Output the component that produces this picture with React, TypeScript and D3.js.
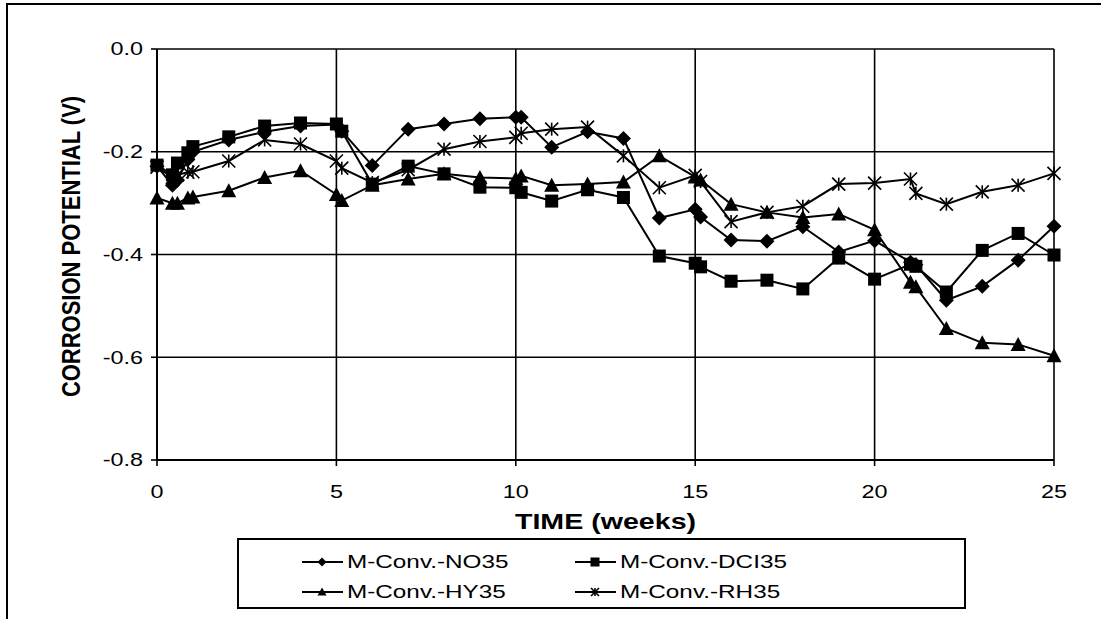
import React, { useEffect, useRef } from "react";
import * as d3 from "d3";

const weeks = [0, 0.43, 0.57, 0.86, 1, 2, 3, 4, 5, 5.15, 6, 7, 8, 9, 10, 10.15, 11, 12, 13, 14, 15, 15.15, 16, 17, 18, 19, 20, 21, 21.15, 22, 23, 24, 25];
const no35 = [-0.228, -0.265, -0.255, -0.215, -0.2, -0.177, -0.161, -0.15, -0.147, -0.16, -0.227, -0.156, -0.146, -0.136, -0.133, -0.133, -0.191, -0.161, -0.174, -0.329, -0.312, -0.327, -0.372, -0.374, -0.346, -0.395, -0.373, -0.415, -0.42, -0.489, -0.462, -0.411, -0.345];
const dci35 = [-0.226, -0.245, -0.222, -0.202, -0.19, -0.171, -0.15, -0.144, -0.146, -0.16, -0.263, -0.228, -0.243, -0.269, -0.27, -0.279, -0.296, -0.274, -0.289, -0.403, -0.417, -0.424, -0.452, -0.45, -0.467, -0.407, -0.448, -0.419, -0.423, -0.473, -0.392, -0.359, -0.401];
const hy35 = [-0.29, -0.3, -0.3, -0.29, -0.288, -0.276, -0.25, -0.237, -0.283, -0.295, -0.265, -0.253, -0.243, -0.25, -0.252, -0.247, -0.265, -0.263, -0.259, -0.208, -0.249, -0.255, -0.302, -0.318, -0.328, -0.321, -0.352, -0.454, -0.463, -0.544, -0.572, -0.575, -0.597];
const rh35 = [-0.23, -0.25, -0.245, -0.24, -0.239, -0.218, -0.177, -0.185, -0.218, -0.232, -0.26, -0.235, -0.195, -0.18, -0.172, -0.164, -0.156, -0.152, -0.208, -0.27, -0.246, -0.258, -0.336, -0.318, -0.306, -0.263, -0.261, -0.253, -0.281, -0.302, -0.278, -0.265, -0.242];

const seriesNames = ["M-Conv.-NO35", "M-Conv.-DCI35", "M-Conv.-HY35", "M-Conv.-RH35"];
const markerKinds = ["diamond", "square", "triangle", "star"];
const xTicks = [0, 5, 10, 15, 20, 25];
const yTicks = [0, -0.2, -0.4, -0.6, -0.8];
const yTickLabels = ["0.0", "-0.2", "-0.4", "-0.6", "-0.8"];

const FONT = "'Liberation Sans', Arial, sans-serif";
const SX = 1.3;

export default function App() {
  const ref = useRef<SVGSVGElement>(null);
  useEffect(() => {
    const svg = d3.select(ref.current);
    svg.selectAll("*").remove();
    const W = 1101, H = 619;
    const left = 157, right = 1054, top = 49, bottom = 460;
    const x = d3.scaleLinear().domain([0, 25]).range([left, right]);
    const y = d3.scaleLinear().domain([-0.8, 0]).range([bottom, top]);

    svg.append("rect").attr("x", 0).attr("y", 0).attr("width", W).attr("height", H).attr("fill", "#fff");
    // outer frame
    svg.append("rect").attr("x", 7).attr("y", 4).attr("width", W + 10).attr("height", H + 10)
      .attr("fill", "none").attr("stroke", "#000").attr("stroke-width", 2);

    // gridlines
    const g = svg.append("g");
    yTicks.filter(v => v !== -0.8).forEach(v => {
      g.append("line").attr("x1", left).attr("x2", right).attr("y1", y(v)).attr("y2", y(v))
        .attr("stroke", "#000").attr("stroke-width", 1.6);
    });
    xTicks.filter(v => v !== 0).forEach(v => {
      g.append("line").attr("x1", x(v)).attr("x2", x(v)).attr("y1", top).attr("y2", bottom)
        .attr("stroke", "#000").attr("stroke-width", 1.6);
    });
    // axes
    g.append("line").attr("x1", left).attr("x2", left).attr("y1", top).attr("y2", bottom).attr("stroke", "#000").attr("stroke-width", 2);
    g.append("line").attr("x1", left).attr("x2", right).attr("y1", bottom).attr("y2", bottom).attr("stroke", "#000").attr("stroke-width", 2);
    yTicks.forEach((v, i) => {
      g.append("line").attr("x1", left - 6).attr("x2", left).attr("y1", y(v)).attr("y2", y(v)).attr("stroke", "#000").attr("stroke-width", 1.6);
      g.append("text").attr("transform", `translate(${left - 14},${y(v)}) scale(${SX},1)`)
        .attr("text-anchor", "end").attr("dominant-baseline", "central")
        .attr("font-family", FONT).attr("font-size", 18).text(yTickLabels[i]);
    });
    xTicks.forEach(v => {
      g.append("line").attr("x1", x(v)).attr("x2", x(v)).attr("y1", bottom).attr("y2", bottom + 6).attr("stroke", "#000").attr("stroke-width", 1.6);
      g.append("text").attr("transform", `translate(${x(v)},${bottom + 32}) scale(${SX},1)`)
        .attr("text-anchor", "middle").attr("dominant-baseline", "central")
        .attr("font-family", FONT).attr("font-size", 18).text(String(v));
    });

    // titles
    svg.append("text").attr("transform", `translate(${(left + right) / 2},${521}) scale(${SX},1)`)
      .attr("text-anchor", "middle").attr("dominant-baseline", "central")
      .attr("font-family", FONT).attr("font-weight", "bold").attr("font-size", 22).text("TIME (weeks)");
    svg.append("text").attr("transform", `translate(${71},${(top + bottom) / 2 - 8}) rotate(-90) scale(1,1.15)`)
      .attr("text-anchor", "middle").attr("dominant-baseline", "central")
      .attr("font-family", FONT).attr("font-weight", "bold").attr("font-size", 22).text("CORROSION POTENTIAL (V)");

    const drawMarker = (sel: any, kind: string, cx: number, cy: number, s: number) => {
      if (kind === "diamond") {
        sel.append("path").attr("d", `M${cx},${cy - s / 2}L${cx + s / 2},${cy}L${cx},${cy + s / 2}L${cx - s / 2},${cy}Z`).attr("fill", "#000");
      } else if (kind === "square") {
        sel.append("rect").attr("x", cx - s / 2).attr("y", cy - s / 2).attr("width", s).attr("height", s).attr("fill", "#000");
      } else if (kind === "triangle") {
        sel.append("path").attr("d", `M${cx},${cy - s / 2}L${cx + s / 2},${cy + s / 2 - 1}L${cx - s / 2},${cy + s / 2 - 1}Z`).attr("fill", "#000");
      } else {
        const r = s / 2;
        const gg = sel.append("g").attr("stroke", "#000").attr("stroke-width", 1.6);
        gg.append("line").attr("x1", cx - r).attr("x2", cx + r).attr("y1", cy - r).attr("y2", cy + r);
        gg.append("line").attr("x1", cx - r).attr("x2", cx + r).attr("y1", cy + r).attr("y2", cy - r);
        gg.append("line").attr("x1", cx).attr("x2", cx).attr("y1", cy - r).attr("y2", cy + r);
      }
    };
    const sizes: Record<string, number> = { diamond: 15, square: 13, triangle: 15, star: 13 };

    const allSeries = [no35, dci35, hy35, rh35];
    const line = d3.line<number>().x((_, i) => x(weeks[i])).y(d => y(d));
    const order = [3, 2, 1, 0];
    order.forEach(si => {
      const vals = allSeries[si];
      const sg = svg.append("g");
      sg.append("path").attr("d", line(vals)).attr("fill", "none").attr("stroke", "#000").attr("stroke-width", 2);
      vals.forEach((v, i) => drawMarker(sg, markerKinds[si], x(weeks[i]), y(v), sizes[markerKinds[si]]));
    });

    // legend
    const lg = svg.append("g");
    lg.append("rect").attr("x", 238).attr("y", 539).attr("width", 727).attr("height", 69)
      .attr("fill", "#fff").attr("stroke", "#000").attr("stroke-width", 2);
    const pos = [[302, 562], [575, 562], [302, 592], [575, 592]];
    seriesNames.forEach((name, i) => {
      const [lx, ly] = pos[i];
      lg.append("line").attr("x1", lx).attr("x2", lx + 41).attr("y1", ly).attr("y2", ly).attr("stroke", "#000").attr("stroke-width", 2);
      drawMarker(lg, markerKinds[i], lx + 20, ly, markerKinds[i] === "star" ? 8 : 9);
      lg.append("text").attr("transform", `translate(${lx + 45},${ly}) scale(1.35,1)`)
        .attr("dominant-baseline", "central").attr("font-family", FONT).attr("font-size", 18).text(name);
    });
  }, []);
  return (
    <svg ref={ref} width={1101} height={619} style={{ position: "absolute", left: 0, top: 0 }} />
  );
}
